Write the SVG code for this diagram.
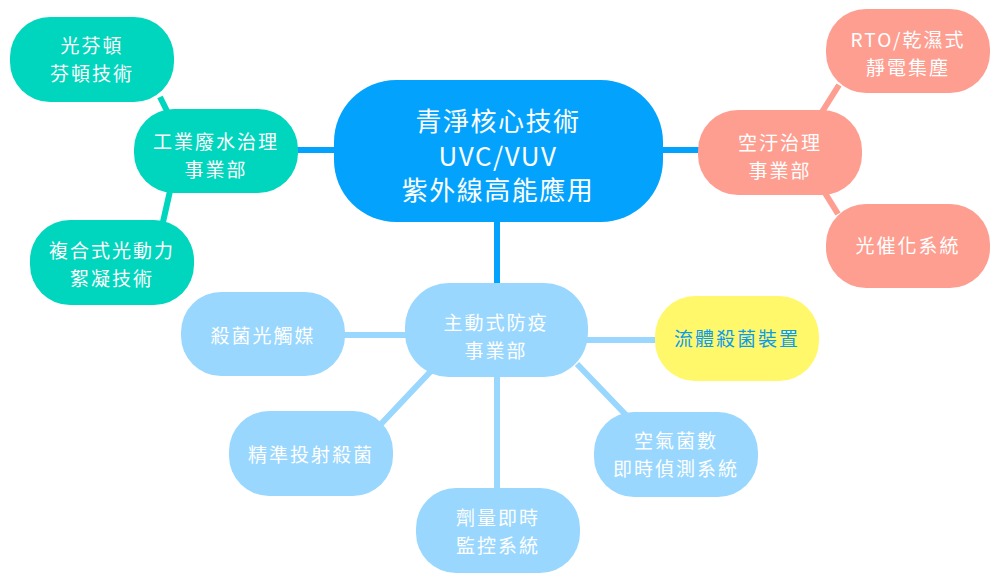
<svg xmlns="http://www.w3.org/2000/svg" width="1000" height="581" viewBox="0 0 1000 581">
<style>
text{font-family:"Noto Sans CJK TC","Noto Sans",sans-serif;fill:#fff;text-anchor:middle}
.t{font-size:19px;letter-spacing:2px}
.c{font-size:26px;letter-spacing:1.5px}
.g{fill:#00D6BD}
.s{fill:#FE9E91}
.b{fill:#99D7FE}
.y{fill:#FFF86B}
.ln{fill:none;stroke-width:6;stroke-linecap:butt}
</style>
<rect width="1000" height="581" fill="#fff"/>
<g id="connectors">
<path class="ln" stroke="#03A3FD" d="M296 150H337M660 150H701M497 219V286"/>
<path class="ln" stroke="#00D6BD" d="M160 97L167 111M170 191L163 222"/>
<path class="ln" stroke="#FE9E91" d="M822 112L839 85M825 193L838 214"/>
<path class="ln" stroke="#99D7FE" d="M343 335H408M585 340H657M431 371L381 424M497 375V490M577 364L626 415"/>
</g>
<g id="center"><rect x="334" y="80" width="329" height="142" rx="62" fill="#03A3FD"/>
<text class="c" x="498" y="131">青淨核心技術</text><text class="c" x="498" y="166">UVC/VUV</text><text class="c" x="498" y="200">紫外線高能應用</text></g>
<g id="water"><rect class="g" x="134" y="109" width="164" height="84" rx="40"/><text class="t" x="216" y="149">工業廢水治理</text><text class="t" x="216" y="177">事業部</text></g>
<g id="fenton"><rect class="g" x="10" y="17" width="164" height="85" rx="40"/><text class="t" x="92" y="53">光芬頓</text><text class="t" x="92" y="81">芬頓技術</text></g>
<g id="floc"><rect class="g" x="30" y="220" width="164" height="85" rx="40"/><text class="t" x="112" y="258">複合式光動力</text><text class="t" x="112" y="286">絮凝技術</text></g>
<g id="air"><rect class="s" x="698" y="110" width="164" height="85" rx="40"/><text class="t" x="780" y="150">空汙治理</text><text class="t" x="780" y="178">事業部</text></g>
<g id="rto"><rect class="s" x="826" y="9" width="164" height="84" rx="40"/><text class="t" x="908" y="47">RTO/乾濕式</text><text class="t" x="908" y="75">靜電集塵</text></g>
<g id="photocat"><rect class="s" x="826" y="204" width="164" height="84" rx="40"/><text class="t" x="908" y="253">光催化系統</text></g>
<g id="active"><rect class="b" x="405" y="283" width="183" height="94" rx="44"/><text class="t" x="496" y="330">主動式防疫</text><text class="t" x="496" y="358">事業部</text></g>
<g id="catalyst"><rect class="b" x="181" y="292" width="164" height="84" rx="40"/><text class="t" x="263" y="343">殺菌光觸媒</text></g>
<g id="fluid"><rect class="y" x="655" y="296" width="164" height="85" rx="40"/><text class="t" x="737" y="346" style="fill:#0A9CEC">流體殺菌裝置</text></g>
<g id="precise"><rect class="b" x="229" y="411" width="164" height="85" rx="40"/><text class="t" x="311" y="462">精準投射殺菌</text></g>
<g id="dose"><rect class="b" x="416" y="488" width="164" height="85" rx="40"/><text class="t" x="498" y="525">劑量即時</text><text class="t" x="498" y="553">監控系統</text></g>
<g id="count"><rect class="b" x="594" y="412" width="164" height="85" rx="40"/><text class="t" x="676" y="448">空氣菌數</text><text class="t" x="676" y="476">即時偵測系統</text></g>
</svg>
